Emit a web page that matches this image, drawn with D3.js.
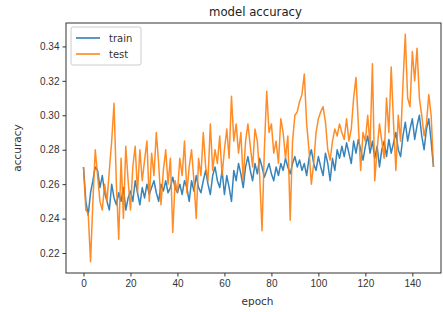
<!DOCTYPE html>
<html>
<head>
<meta charset="utf-8">
<script src="https://cdn.jsdelivr.net/npm/d3@7"></script>
<style>
  body { margin: 0; background: #fff; }
  svg { display: block; font-family: 'DejaVu Sans', sans-serif; }
  .axis text { font-size: 10px; fill: #333; }
  .axis path, .axis line { stroke: #333; }
</style>
</head>
<body>
<svg width="443" height="312"></svg>
<script>
const seriesNames = ['train', 'test']

const train = [
  0.270, 0.250, 0.242, 0.255, 0.262, 0.270, 0.268, 0.258, 0.265, 0.255,
  0.250, 0.245, 0.260, 0.252, 0.248, 0.255, 0.250, 0.258, 0.245, 0.252,
  0.256, 0.250, 0.262, 0.255, 0.248, 0.258, 0.252, 0.260, 0.254, 0.258,
  0.262, 0.255, 0.250, 0.260, 0.256, 0.262, 0.255, 0.258, 0.264, 0.258,
  0.255, 0.260, 0.254, 0.262, 0.258, 0.250, 0.262, 0.256, 0.265, 0.258,
  0.255, 0.262, 0.268, 0.260, 0.254, 0.265, 0.270, 0.262, 0.258, 0.268,
  0.254, 0.265, 0.258, 0.250, 0.268, 0.262, 0.272, 0.266, 0.258, 0.270,
  0.276, 0.268, 0.262, 0.272, 0.266, 0.275, 0.270, 0.264, 0.268, 0.272,
  0.266, 0.262, 0.270, 0.265, 0.272, 0.268, 0.275, 0.270, 0.266, 0.272,
  0.276, 0.270, 0.274, 0.268, 0.272, 0.265, 0.275, 0.280, 0.272, 0.268,
  0.276, 0.270, 0.265, 0.278, 0.272, 0.262, 0.275, 0.268, 0.280, 0.275,
  0.282, 0.276, 0.284, 0.278, 0.272, 0.285, 0.278, 0.286, 0.280, 0.274,
  0.282, 0.288, 0.278, 0.285, 0.275, 0.282, 0.270, 0.280, 0.285, 0.276,
  0.286, 0.278, 0.284, 0.290, 0.280, 0.276, 0.288, 0.296, 0.285, 0.292,
  0.298, 0.286, 0.294, 0.300, 0.288, 0.280, 0.292, 0.298, 0.285, 0.270
]

const test = [
  0.270, 0.245, 0.243, 0.215, 0.250, 0.280, 0.265, 0.250, 0.245, 0.260,
  0.250, 0.268, 0.285, 0.307, 0.260, 0.228, 0.275, 0.240, 0.282, 0.262,
  0.245, 0.270, 0.282, 0.255, 0.280, 0.262, 0.274, 0.285, 0.250, 0.278,
  0.265, 0.290, 0.272, 0.248, 0.268, 0.280, 0.260, 0.275, 0.232, 0.262,
  0.255, 0.275, 0.265, 0.285, 0.255, 0.270, 0.280, 0.262, 0.240, 0.275,
  0.265, 0.290, 0.270, 0.262, 0.295, 0.268, 0.280, 0.272, 0.288, 0.265,
  0.280, 0.292, 0.275, 0.311, 0.285, 0.295, 0.278, 0.290, 0.262, 0.285,
  0.295, 0.282, 0.270, 0.292, 0.285, 0.265, 0.233, 0.280, 0.314, 0.290,
  0.295, 0.278, 0.285, 0.272, 0.298, 0.290, 0.275, 0.288, 0.239, 0.285,
  0.300, 0.302, 0.308, 0.312, 0.324, 0.295, 0.280, 0.260, 0.272, 0.290,
  0.298, 0.302, 0.305, 0.296, 0.280, 0.274, 0.285, 0.292, 0.288, 0.295,
  0.290, 0.286, 0.298, 0.285, 0.292, 0.310, 0.322, 0.295, 0.268, 0.290,
  0.285, 0.300, 0.282, 0.330, 0.262, 0.280, 0.295, 0.285, 0.275, 0.310,
  0.290, 0.328, 0.295, 0.268, 0.300, 0.285, 0.318, 0.347, 0.310, 0.305,
  0.337, 0.320, 0.339, 0.310, 0.300, 0.288, 0.295, 0.312, 0.300, 0.270
]

const xTicks = [0, 20, 40, 60, 80, 100, 120, 140]
const yTicks = [0.22, 0.24, 0.26, 0.28, 0.30, 0.32, 0.34]
const colors = ['#1f77b4', '#ff7f0e']

const margin = {top: 23, right: 2, bottom: 39, left: 66}
const width = 443
const height = 312

const svg = d3.select('svg')

// x range is cut off on the right in the original picture
const xScale = d3.scaleLinear()
  .domain([-7.45, 152.2])
  .range([margin.left, width - margin.right])

const yScale = d3.scaleLinear()
  .domain([0.2084, 0.3536])
  .range([height - margin.bottom, margin.top])

const line = d3.line()
  .x((d, i) => xScale(i))
  .y((d) => yScale(d))

const plot = svg.append('g')

;[train, test].forEach((series, k) => {
  plot.append('path')
    .datum(series)
    .attr('fill', 'none')
    .attr('stroke', colors[k])
    .attr('stroke-width', 1.5)
    .attr('stroke-linejoin', 'round')
    .attr('opacity', 0.9)
    .attr('d', line)
})

// frame
svg.append('rect')
  .attr('x', margin.left)
  .attr('y', margin.top)
  .attr('width', width - margin.right - margin.left)
  .attr('height', height - margin.bottom - margin.top)
  .attr('fill', 'none')
  .attr('stroke', '#333')
  .attr('stroke-width', 1)

svg.append('g')
  .attr('class', 'axis')
  .attr('transform', 'translate(0,' + (height - margin.bottom) + ')')
  .call(d3.axisBottom(xScale).tickValues(xTicks).tickSize(3.5).tickPadding(3))
  .call(g => g.select('.domain').remove())

svg.append('g')
  .attr('class', 'axis')
  .attr('transform', 'translate(' + margin.left + ',0)')
  .call(d3.axisLeft(yScale).tickValues(yTicks).tickFormat(d3.format('.2f')).tickSize(3.5).tickPadding(3))
  .call(g => g.select('.domain').remove())

svg.append('text')
  .attr('x', (margin.left + width - margin.right) / 2 + 2)
  .attr('y', 16)
  .attr('text-anchor', 'middle')
  .attr('font-size', 11.7)
  .attr('fill', '#222')
  .text('model accuracy')

svg.append('text')
  .attr('x', (margin.left + width - margin.right) / 2 + 4)
  .attr('y', 305)
  .attr('text-anchor', 'middle')
  .attr('font-size', 10.5)
  .attr('fill', '#333')
  .text('epoch')

svg.append('text')
  .attr('transform', 'translate(21,' + ((margin.top + height - margin.bottom) / 2) + ') rotate(-90)')
  .attr('text-anchor', 'middle')
  .attr('font-size', 10.5)
  .attr('fill', '#333')
  .text('accuracy')

// legend
const legend = svg.append('g').attr('transform', 'translate(71,27)')
legend.append('rect')
  .attr('width', 70)
  .attr('height', 38)
  .attr('rx', 2)
  .attr('fill', '#fff')
  .attr('fill-opacity', 0.8)
  .attr('stroke', '#ccc')

seriesNames.forEach((name, k) => {
  const row = legend.append('g').attr('transform', 'translate(0,' + (11 + k * 16) + ')')
  row.append('line')
    .attr('x1', 5).attr('x2', 29)
    .attr('stroke', colors[k])
    .attr('stroke-width', 1.5)
  row.append('text')
    .attr('x', 38)
    .attr('y', 3.5)
    .attr('font-size', 10)
    .attr('fill', '#333')
    .text(name)
})
</script>
</body>
</html>
